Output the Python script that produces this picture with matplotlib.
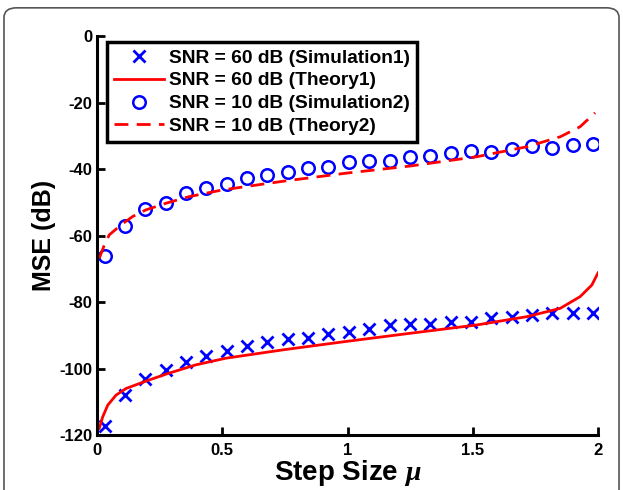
import matplotlib.pyplot as plt
from matplotlib.patches import FancyBboxPatch
import numpy as np

plt.rcParams['font.family'] = ['Liberation Sans', 'DejaVu Sans']
plt.rcParams['font.weight'] = 'bold'
plt.rcParams['axes.unicode_minus'] = False
plt.rcParams['mathtext.fontset'] = 'custom'
plt.rcParams['mathtext.it'] = 'Liberation Serif:italic'

# step sizes of the simulation points
mu_sim = np.linspace(0.03, 1.98, 25)

# SNR = 60 dB, simulation
mse_sim1 = [-117.2, -108.0, -103.2, -100.5, -98.0, -96.2, -94.7, -93.2, -91.9,
            -91.1, -90.9, -89.7, -88.9, -88.2, -87.0, -86.7, -86.5, -85.9,
            -86.1, -84.7, -84.4, -83.9, -83.4, -83.2, -83.2]
# SNR = 10 dB, simulation
mse_sim2 = [-66.2, -57.1, -52.1, -50.3, -47.1, -45.7, -44.5, -42.7, -41.9,
            -41.0, -39.6, -39.4, -37.8, -37.5, -37.5, -36.5, -36.0, -35.3,
            -34.5, -35.0, -33.9, -33.0, -33.8, -32.8, -32.5]

# theory curves
mu_th1 = [0.009, 0.023, 0.043, 0.076, 0.116, 0.195, 0.275, 0.394, 0.514,
          0.75, 1.0, 1.25, 1.516, 1.716, 1.849, 1.928, 1.975, 2.0]
mse_th1 = [-118.0, -114.5, -111.0, -108.0, -106.0, -103.8, -101.7, -98.9, -96.9,
           -94.3, -91.8, -89.4, -86.9, -84.4, -81.9, -78.4, -74.9, -71.2]

mu_th2 = [0.009, 0.029, 0.049, 0.096, 0.142, 0.195, 0.275, 0.368, 0.5,
          0.75, 1.0, 1.25, 1.516, 1.716, 1.849, 1.928, 1.988]
mse_th2 = [-66.9, -62.9, -59.8, -56.8, -54.3, -52.3, -50.3, -48.3, -46.3,
           -43.6, -41.2, -39.1, -36.3, -33.3, -30.3, -27.3, -23.1]

fig = plt.figure(figsize=(6.23, 4.9), dpi=100)
ax = fig.add_axes([0.1557, 0.1122, 0.8043, 0.8143])

ax.plot(mu_sim, mse_sim1, 'x', color='blue', markersize=8, mew=2,
        label='SNR = 60 dB (Simulation1)')
ax.plot(mu_th1, mse_th1, '-', color='red', lw=2,
        label='SNR = 60 dB (Theory1)')
ax.plot(mu_sim, mse_sim2, 'o', color='blue', markersize=9, mew=1.8,
        mfc='none', label='SNR = 10 dB (Simulation2)')
ax.plot(mu_th2, mse_th2, '--', color='red', lw=2, dashes=(5, 3),
        label='SNR = 10 dB (Theory2)')

ax.set_xlim(0, 2)
ax.set_ylim(-120, 0)
ax.set_xticks([0, 0.5, 1, 1.5, 2])
ax.set_xticklabels(['0', '0.5', '1', '1.5', '2'])
ax.set_yticks(np.arange(-120, 1, 20))
ax.tick_params(direction='in', length=6, width=2, labelsize=12)
ax.tick_params(axis='x', pad=6)
for s in ['top', 'right']:
    ax.spines[s].set_visible(False)
for s in ['left', 'bottom']:
    ax.spines[s].set_linewidth(2.2)

ax.set_xlabel(r'Step Size $\mu$', fontsize=20, fontweight='bold', labelpad=0)
ax.set_ylabel('MSE (dB)', fontsize=18, fontweight='bold', labelpad=2)

leg = ax.legend(loc='upper left', bbox_to_anchor=(0.02, 0.985), borderaxespad=0,
                fontsize=13.8, fancybox=False, edgecolor='black', framealpha=1,
                handlelength=2.6, handletextpad=0.25, labelspacing=0.28,
                borderpad=0.38)
leg.get_frame().set_linewidth(2.5)

# rounded frame around the figure (bottom edge falls outside the picture)
frame = FancyBboxPatch((0.0064, -0.05), 0.9872, 1.034,
                       boxstyle='round,pad=0,rounding_size=0.02',
                       transform=fig.transFigure, fill=False, edgecolor='#555555',
                       lw=1.2, clip_on=False)
fig.patches.append(frame)

fig.savefig('out.png', dpi=100)
